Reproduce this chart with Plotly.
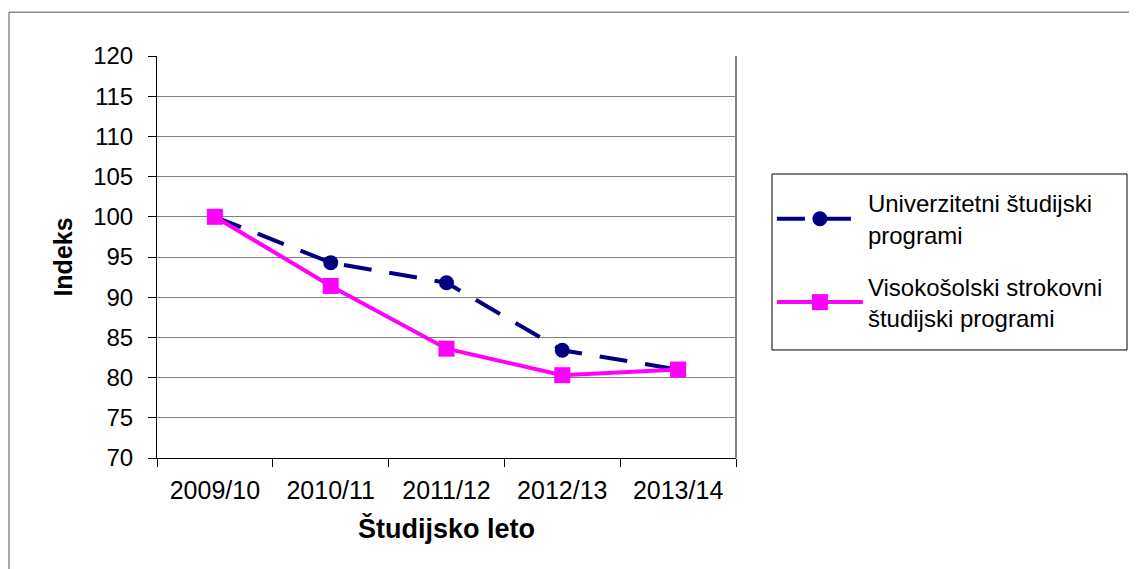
import plotly.graph_objects as go

leta = ['2009/10', '2010/11', '2011/12', '2012/13', '2013/14']
univerzitetni = [100, 94.3, 91.8, 83.4, 81.0]
visokosolski = [100, 91.4, 83.6, 80.3, 81.0]
y_ticks = [70, 75, 80, 85, 90, 95, 100, 105, 110, 115, 120]

fig = go.Figure()

fig.add_trace(go.Scatter(
    x=leta,
    y=univerzitetni,
    name='Univerzitetni študijski<br>programi',
    legendgroup='u',
    mode='lines+markers',
    line=dict(color='#000080', width=4, dash='28px,18px'),
    marker=dict(symbol='circle', size=15, color='#000080'),
))

fig.add_trace(go.Scatter(
    x=leta,
    y=visokosolski,
    name='Visokošolski strokovni<br>študijski programi',
    legendgroup='v',
    mode='lines+markers',
    line=dict(color='#FF00FF', width=4),
    marker=dict(symbol='square', size=16, color='#FF00FF'),
))

# outer chart frame, right border of the plot area, legend frame
fig.add_shape(type='rect', xref='paper', yref='paper',
              x0=-0.2556, x1=1.75, y0=-0.35, y1=1.109,
              line=dict(color='#555555', width=1), layer='below')
fig.add_shape(type='line', xref='paper', yref='paper',
              x0=1, x1=1, y0=0, y1=1,
              line=dict(color='#808080', width=2))
fig.add_shape(type='rect', xref='paper', yref='paper',
              x0=1.0622, x1=1.6753, y0=0.2687, y1=0.7065,
              line=dict(color='black', width=1))

# page body has an 8px margin, so the figure is shrunk by that much
fig.update_layout(
    width=1129,
    height=561,
    margin=dict(l=149, r=401, t=48, b=111),
    paper_bgcolor='white',
    plot_bgcolor='white',
    font=dict(family='Liberation Sans, Arial, sans-serif', size=24, color='black'),
    showlegend=True,
    legend=dict(
        x=1.062, y=0.689,
        xanchor='left', yanchor='top',
        bgcolor='rgba(0,0,0,0)',
        borderwidth=0,
        font=dict(size=24),
        traceorder='grouped',
        tracegroupgap=18,
        itemwidth=86,
    ),
    xaxis=dict(
        title=dict(text='<b>Študijsko leto</b>', font=dict(size=27), standoff=16),
        showline=True, linecolor='black', linewidth=1,
        showgrid=False,
        ticks='outside', ticklen=8, tickcolor='black',
        tickson='boundaries',
        tickfont=dict(size=25),
        ticklabelstandoff=10,
        range=[-0.5, 4.5],
    ),
    yaxis=dict(
        title=dict(text='<b>Indeks</b>', font=dict(size=25), standoff=13),
        range=[70, 120],
        tickvals=y_ticks,
        tickfont=dict(size=24),
        showline=True, linecolor='black', linewidth=1,
        showgrid=True, gridcolor='#808080', gridwidth=1,
        ticks='outside', ticklen=8, tickcolor='black',
        ticklabelstandoff=10,
        zeroline=False,
    ),
)

fig.write_html('out.html')
